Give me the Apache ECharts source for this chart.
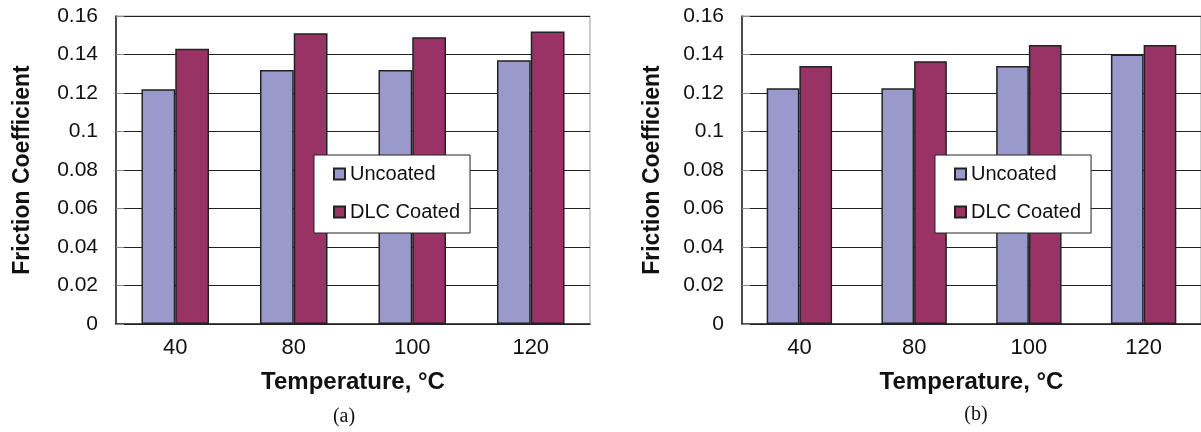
<!DOCTYPE html>
<html>
<head>
<meta charset="utf-8">
<script src="https://cdn.jsdelivr.net/npm/echarts@6/dist/echarts.min.js"></script>
<style>
  html, body { margin: 0; padding: 0; background: #fff; }
  #main { width: 1201px; height: 432px; }
</style>
</head>
<body>
<div id="main"></div>
<script>
// data
var categories = ['40', '80', '100', '120'];
var uncoatedA = [0.122, 0.132, 0.132, 0.137];
var coatedA = [0.143, 0.151, 0.149, 0.152];
var uncoatedB = [0.1225, 0.1225, 0.134, 0.140];
var coatedB = [0.134, 0.1365, 0.145, 0.145];
var yMin = 0, yMax = 0.16, yStep = 0.02;
var panelLabels = ['(a)', '(b)'];

var sans = '"Liberation Sans", Arial, Helvetica, sans-serif';
var serif = '"Liberation Serif", "Times New Roman", serif';
var colUncoated = '#9999cc';
var colCoated = '#993366';

function xAxisFor(idx) {
    return {
        type: 'category',
        gridIndex: idx,
        data: categories,
        axisLine: { lineStyle: { color: '#222', width: 1.5 } },
        axisTick: { inside: true, length: 8, lineStyle: { color: '#222' } },
        axisLabel: { color: '#111', fontFamily: sans, fontSize: 22, margin: 13 },
        name: 'Temperature, °C',
        nameLocation: 'middle',
        nameGap: 46,
        nameTextStyle: { color: '#111', fontFamily: sans, fontWeight: 'bold', fontSize: 24 }
    };
}

function yAxisFor(idx, gap) {
    return {
        type: 'value',
        gridIndex: idx,
        min: yMin, max: yMax, interval: yStep,
        axisLine: { show: true, lineStyle: { color: '#222', width: 1.5 } },
        axisTick: { show: true, inside: true, length: 8, lineStyle: { color: '#888' } },
        axisLabel: { color: '#111', fontFamily: sans, fontSize: 21, margin: 18 },
        splitLine: { lineStyle: { color: '#222', width: 1 } },
        name: 'Friction Coefficient',
        nameLocation: 'middle',
        nameGap: gap,
        nameTextStyle: { color: '#111', fontFamily: sans, fontWeight: 'bold', fontSize: 23 }
    };
}

function barSeries(name, data, color, idx) {
    return {
        name: name,
        type: 'bar',
        xAxisIndex: idx,
        yAxisIndex: idx,
        data: data,
        barGap: '0%',
        barCategoryGap: '43%',
        itemStyle: { color: color, borderColor: '#222', borderWidth: 1.5 }
    };
}

function legendFor(left) {
    return {
        data: ['Uncoated', 'DLC Coated'],
        orient: 'vertical',
        left: left,
        top: 155,
        itemWidth: 11,
        itemHeight: 11,
        itemGap: 18,
        padding: [9, 10, 11, 19],
        backgroundColor: '#fff',
        borderColor: '#222',
        borderWidth: 1,
        icon: 'rect',
        selectedMode: false,
        textStyle: { color: '#111', fontFamily: sans, fontSize: 20, lineHeight: 20 }
    };
}

var myChart = echarts.init(document.getElementById('main'));
var option = {
    backgroundColor: '#fff',
    animation: false,
    grid: [
        { left: 116, top: 16, width: 474, height: 308, show: true, borderColor: '#999', borderWidth: 1 },
        { left: 742, top: 16, width: 464, height: 308, show: true, borderColor: '#999', borderWidth: 1 }
    ],
    xAxis: [xAxisFor(0), xAxisFor(1)],
    yAxis: [yAxisFor(0, 82), yAxisFor(1, 78)],
    legend: [legendFor(314), legendFor(935)],
    series: [
        barSeries('Uncoated', uncoatedA, colUncoated, 0),
        barSeries('DLC Coated', coatedA, colCoated, 0),
        barSeries('Uncoated', uncoatedB, colUncoated, 1),
        barSeries('DLC Coated', coatedB, colCoated, 1)
    ],
    graphic: [
        { type: 'text', x: 344, y: 417, style: { text: panelLabels[0], fontFamily: serif, fontSize: 20, fill: '#111', textAlign: 'center', textVerticalAlign: 'middle' } },
        { type: 'text', x: 976, y: 415, style: { text: panelLabels[1], fontFamily: serif, fontSize: 20, fill: '#111', textAlign: 'center', textVerticalAlign: 'middle' } }
    ]
};
myChart.setOption(option);
</script>
</body>
</html>
